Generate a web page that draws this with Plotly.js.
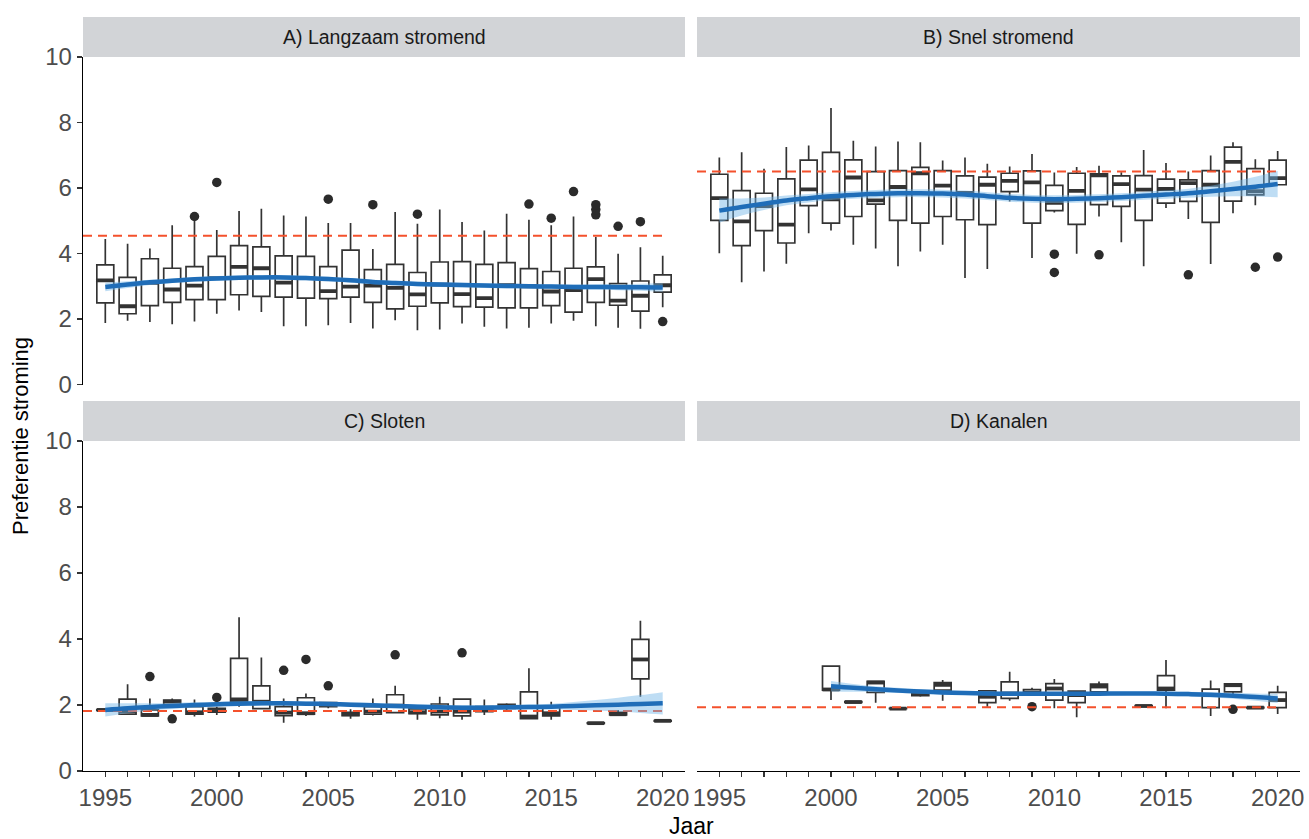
<!DOCTYPE html>
<html>
<head>
<meta charset="utf-8">
<script src="https://cdn.plot.ly/plotly-3.0.1.min.js"></script>
<style>
  html, body { margin: 0; padding: 0; background: #fff; }
  #chart { width: 1309px; height: 839px; }
</style>
</head>
<body>
<div id="chart"></div>
<script>
// ---------- Panel A: Langzaam stromend ----------
const yearsA = [1995,1996,1997,1998,1999,2000,2001,2002,2003,2004,2005,2006,2007,2008,2009,2010,2011,2012,2013,2014,2015,2016,2017,2018,2019,2020];
const loA  = [1.88,1.95,1.91,1.84,1.92,2.16,2.26,2.21,1.78,1.78,1.81,1.88,1.71,1.96,1.66,1.68,1.86,1.76,1.71,1.73,1.86,1.95,1.78,1.73,1.70,2.36];
const q1A  = [2.49,2.16,2.41,2.51,2.59,2.59,2.74,2.69,2.67,2.64,2.62,2.67,2.51,2.31,2.39,2.49,2.38,2.36,2.34,2.34,2.41,2.21,2.51,2.42,2.24,2.82];
const medA = [3.18,2.39,3.10,2.90,3.02,3.25,3.59,3.55,3.11,3.25,2.85,2.99,3.02,2.95,2.75,3.05,2.76,2.64,3.03,3.00,2.84,2.88,3.22,2.56,2.71,3.03];
const q3A  = [3.65,3.27,3.84,3.55,3.60,3.91,4.24,4.20,3.93,3.91,3.60,4.10,3.51,3.67,3.42,3.74,3.75,3.67,3.72,3.54,3.45,3.55,3.59,3.08,3.16,3.35];
const hiA  = [4.44,4.30,4.15,4.86,5.00,4.72,5.30,5.37,5.16,5.13,4.93,4.93,4.14,5.27,4.91,5.34,4.96,4.70,5.21,5.03,4.86,5.13,4.50,3.99,4.19,3.93];
const outYearA = [1999,2000,2005,2007,2009,2014,2015,2016,2017,2017,2017,2018,2019,2020];
const outValA  = [5.13,6.17,5.66,5.49,5.20,5.51,5.08,5.89,5.18,5.34,5.49,4.83,4.97,1.92];
const fitA = [2.98,3.05,3.12,3.17,3.21,3.24,3.26,3.27,3.27,3.25,3.22,3.18,3.13,3.10,3.07,3.05,3.04,3.02,3.01,3.00,2.99,2.98,2.98,2.97,2.97,2.96];
const seA  = [0.13,0.10,0.08,0.07,0.07,0.07,0.07,0.07,0.07,0.07,0.07,0.07,0.07,0.07,0.07,0.07,0.07,0.07,0.07,0.07,0.07,0.07,0.08,0.09,0.11,0.13];
const refA = 4.54;

// ---------- Panel B: Snel stromend ----------
const yearsB = [1995,1996,1997,1998,1999,2000,2001,2002,2003,2004,2005,2006,2007,2008,2009,2010,2011,2012,2013,2014,2015,2016,2017,2018,2019,2020];
const loB  = [4.01,3.12,3.45,3.69,4.62,4.70,4.27,4.15,3.61,4.06,4.27,3.25,3.53,5.59,3.86,5.25,3.99,5.13,4.34,3.61,5.39,5.05,3.68,5.23,5.47,6.10];
const q1B  = [5.01,4.24,4.70,4.32,5.46,4.93,5.13,5.51,5.01,4.93,5.13,5.03,4.88,5.89,4.93,5.31,4.89,5.49,5.44,5.01,5.54,5.59,4.95,5.60,5.79,6.10];
const medB = [5.69,4.98,5.45,4.88,5.96,5.65,6.32,5.62,6.03,6.45,6.07,5.85,6.10,6.22,6.17,5.55,5.91,6.39,6.12,5.95,5.97,6.15,6.10,6.80,5.90,6.30];
const q3B  = [6.42,5.92,5.84,6.28,6.85,7.09,6.86,6.50,6.53,6.63,6.53,6.37,6.33,6.45,6.52,6.08,6.45,6.43,6.37,6.38,6.27,6.25,6.53,7.25,6.59,6.85];
const hiB  = [6.93,7.09,6.59,7.25,7.30,8.44,7.44,7.27,7.42,7.40,6.84,6.93,6.74,6.66,7.04,6.47,6.64,6.68,6.48,7.16,6.76,6.50,6.99,7.40,6.88,7.13];
const outYearB = [2010,2010,2012,2016,2019,2020];
const outValB  = [3.98,3.42,3.96,3.35,3.58,3.89];
const fitB = [5.31,5.42,5.52,5.62,5.69,5.75,5.79,5.82,5.84,5.84,5.83,5.80,5.75,5.70,5.67,5.66,5.67,5.69,5.72,5.76,5.80,5.84,5.90,5.97,6.04,6.12];
const seB  = [0.37,0.26,0.19,0.15,0.13,0.12,0.12,0.12,0.12,0.12,0.12,0.12,0.12,0.12,0.12,0.12,0.12,0.12,0.12,0.12,0.13,0.14,0.17,0.22,0.30,0.40];
const refB = 6.50;

// ---------- Panel C: Sloten ----------
const yearsC = [1995,1996,1997,1998,1999,2000,2001,2002,2003,2004,2005,2006,2007,2008,2009,2010,2011,2012,2013,2014,2015,2017,2018,2019,2020];
const loC  = [1.83,1.72,1.65,1.95,1.65,1.70,1.95,1.88,1.46,1.67,1.90,1.58,1.68,1.75,1.55,1.60,1.55,1.70,1.85,1.57,1.55,1.43,1.68,2.25,1.50];
const q1C  = [1.84,1.72,1.67,2.00,1.72,1.78,2.12,1.89,1.68,1.72,1.95,1.68,1.72,1.77,1.74,1.70,1.67,1.80,1.90,1.59,1.67,1.44,1.70,2.79,1.51];
const medC = [1.85,1.80,1.70,2.10,1.78,1.82,2.17,2.10,1.77,1.75,2.00,1.72,1.80,1.98,1.78,1.80,1.80,1.85,1.95,1.65,1.75,1.45,1.72,3.38,1.52];
const q3C  = [1.86,2.18,1.85,2.15,1.95,1.90,3.41,2.58,1.95,2.22,2.07,1.78,1.95,2.31,1.88,2.03,2.18,1.95,2.02,2.40,1.95,1.46,1.78,3.99,1.53];
const hiC  = [1.87,2.63,2.20,2.20,2.17,1.95,4.66,3.44,2.20,2.35,2.10,1.87,2.20,2.58,2.00,2.25,2.20,2.17,2.05,3.11,2.10,1.47,1.85,4.55,1.54];
const outYearC = [1997,1998,2000,2003,2004,2005,2008,2011];
const outValC  = [2.86,1.58,2.23,3.05,3.38,2.58,3.52,3.58];
const fitYearsC = [1995,1996,1997,1998,1999,2000,2001,2002,2003,2004,2005,2006,2007,2008,2009,2010,2011,2012,2013,2014,2015,2016,2017,2018,2019,2020];
const fitC = [1.85,1.90,1.94,1.97,2.00,2.02,2.04,2.05,2.05,2.04,2.03,2.01,1.99,1.97,1.95,1.93,1.92,1.92,1.93,1.94,1.95,1.97,1.99,2.01,2.03,2.05];
const seC  = [0.20,0.15,0.11,0.09,0.08,0.07,0.07,0.07,0.07,0.07,0.07,0.07,0.07,0.07,0.07,0.07,0.07,0.07,0.07,0.08,0.09,0.12,0.16,0.21,0.27,0.34];
const refC = 1.82;

// ---------- Panel D: Kanalen ----------
const yearsD = [2000,2001,2002,2003,2004,2005,2007,2008,2009,2010,2011,2012,2014,2015,2017,2018,2019,2020];
const loD  = [2.15,2.07,2.07,1.88,2.25,2.13,1.95,2.13,2.28,1.90,1.63,2.35,1.95,1.90,1.67,2.30,1.90,1.73];
const q1D  = [2.45,2.08,2.38,1.89,2.28,2.45,2.07,2.20,2.30,2.15,2.07,2.40,1.96,2.45,1.92,2.40,1.91,1.92];
const medD = [2.47,2.09,2.68,1.89,2.35,2.61,2.25,2.35,2.38,2.50,2.30,2.56,1.97,2.50,2.30,2.60,1.92,2.15];
const q3D  = [3.18,2.10,2.72,1.90,2.42,2.68,2.43,2.70,2.47,2.65,2.42,2.63,1.98,2.89,2.48,2.64,1.93,2.38];
const hiD  = [3.18,2.11,2.74,1.90,2.45,2.76,2.43,3.01,2.52,2.79,2.42,2.71,1.99,3.36,2.74,2.66,1.94,2.58];
const outYearD = [2009,2018];
const outValD  = [1.95,1.87];
const fitYearsD = [2000,2001,2002,2003,2004,2005,2006,2007,2008,2009,2010,2011,2012,2013,2014,2015,2016,2017,2018,2019,2020];
const fitD = [2.57,2.52,2.48,2.44,2.41,2.38,2.36,2.35,2.34,2.34,2.34,2.34,2.34,2.35,2.35,2.34,2.33,2.31,2.28,2.24,2.20];
const seD  = [0.16,0.12,0.09,0.08,0.07,0.07,0.06,0.06,0.06,0.06,0.06,0.06,0.06,0.06,0.06,0.07,0.07,0.08,0.09,0.11,0.14];
const refD = 1.93;

const panelTitles = ['A) Langzaam stromend', 'B) Snel stromend', 'C) Sloten', 'D) Kanalen'];
const xTickVals = [1995,2000,2005,2010,2015,2020];
const yTickVals = [0,2,4,6,8,10];

// ---------- styling ----------
const FONT = 'Liberation Sans, Arial, sans-serif';
const BOX_LINE = '#333333';
const FIT_COLOR = '#1f6db8';
const BAND_COLOR = 'rgba(110,180,230,0.45)';
const REF_COLOR = '#f4512c';
const HALF_BOX = 0.38;

function panelTraces(xa, ya, years, lo, q1, med, q3, hi, outYear, outVal, fitYears, fit, se, ref) {
  const traces = [];
  traces.push({
    type: 'box', xaxis: xa, yaxis: ya,
    x: years, q1: q1, median: med, q3: q3, lowerfence: lo, upperfence: hi,
    boxpoints: false, width: 2 * HALF_BOX, whiskerwidth: 0,
    fillcolor: '#ffffff', line: { color: BOX_LINE, width: 1.7 },
    hoverinfo: 'skip', showlegend: false
  });
  // thick median bars
  const mx = [], my = [];
  years.forEach((yr, i) => {
    mx.push(yr - HALF_BOX, yr + HALF_BOX, null);
    my.push(med[i], med[i], null);
  });
  traces.push({
    type: 'scatter', mode: 'lines', xaxis: xa, yaxis: ya,
    x: mx, y: my, line: { color: BOX_LINE, width: 3.8 },
    hoverinfo: 'skip', showlegend: false
  });
  traces.push({
    type: 'scatter', mode: 'markers', xaxis: xa, yaxis: ya,
    x: outYear, y: outVal, marker: { color: '#2b2b2b', size: 9.5 },
    hoverinfo: 'skip', showlegend: false
  });
  traces.push({
    type: 'scatter', mode: 'lines', xaxis: xa, yaxis: ya,
    x: [1994, 2020], y: [ref, ref],
    line: { color: REF_COLOR, width: 2, dash: '9px,6px' },
    hoverinfo: 'skip', showlegend: false
  });
  traces.push({
    type: 'scatter', mode: 'lines', xaxis: xa, yaxis: ya,
    x: fitYears, y: fit.map((v, i) => v - se[i]),
    line: { width: 0, shape: 'spline' }, hoverinfo: 'skip', showlegend: false
  });
  traces.push({
    type: 'scatter', mode: 'lines', xaxis: xa, yaxis: ya,
    x: fitYears, y: fit.map((v, i) => v + se[i]),
    fill: 'tonexty', fillcolor: BAND_COLOR,
    line: { width: 0, shape: 'spline' }, hoverinfo: 'skip', showlegend: false
  });
  traces.push({
    type: 'scatter', mode: 'lines', xaxis: xa, yaxis: ya,
    x: fitYears, y: fit,
    line: { color: FIT_COLOR, width: 4.5, shape: 'spline' },
    hoverinfo: 'skip', showlegend: false
  });
  return traces;
}

const data = [].concat(
  panelTraces('x', 'y', yearsA, loA, q1A, medA, q3A, hiA, outYearA, outValA, yearsA, fitA, seA, refA),
  panelTraces('x2', 'y2', yearsB, loB, q1B, medB, q3B, hiB, outYearB, outValB, yearsB, fitB, seB, refB),
  panelTraces('x3', 'y3', yearsC, loC, q1C, medC, q3C, hiC, outYearC, outValC, fitYearsC, fitC, seC, refC),
  panelTraces('x4', 'y4', yearsD, loD, q1D, medD, q3D, hiD, outYearD, outValD, fitYearsD, fitD, seD, refD)
);

// pixel geometry of the 2x2 facet grid
const W = 1309, H = 839;
const colL = [83, 697], colR = [685, 1300];
const rowTop = [57, 441], rowBot = [384.5, 771];
const stripH = 40;
const px = v => v / W;
const py = v => 1 - v / H;

const allYears = [];
for (let yr = 1995; yr <= 2020; yr++) allYears.push(yr);

function xAxis(col, row, show, anchor) {
  return {
    domain: [px(colL[col]), px(colR[col])], anchor: anchor,
    range: [1994, 2021], showgrid: false, zeroline: false,
    showline: show, linecolor: '#000', linewidth: 1.3,
    ticks: show ? 'outside' : '', ticklen: 5, tickwidth: 1.2, tickcolor: '#333',
    tickmode: 'array', tickvals: show ? allYears : [],
    ticktext: allYears.map(yr => xTickVals.includes(yr) ? String(yr) : ''),
    showticklabels: show, tickfont: { family: FONT, size: 24, color: '#4d4d4d' },
    fixedrange: true
  };
}
function yAxis(col, row, show, anchor) {
  return {
    domain: [py(rowBot[row]), py(rowTop[row])], anchor: anchor,
    range: [0, 10], showgrid: false, zeroline: false,
    showline: show, linecolor: '#000', linewidth: 1.3,
    ticks: show ? 'outside' : '', ticklen: 5, tickwidth: 1.2, tickcolor: '#333',
    tickmode: 'array', tickvals: yTickVals,
    showticklabels: show, tickfont: { family: FONT, size: 24, color: '#4d4d4d' },
    fixedrange: true
  };
}

const shapes = [], annotations = [];
[[0,0],[1,0],[0,1],[1,1]].forEach(([c, r], i) => {
  shapes.push({
    type: 'rect', xref: 'paper', yref: 'paper', layer: 'below',
    x0: px(colL[c]), x1: px(colR[c]),
    y0: py(rowTop[r]), y1: py(rowTop[r] - stripH),
    fillcolor: '#d2d4d7', line: { width: 0 }
  });
  annotations.push({
    xref: 'paper', yref: 'paper', showarrow: false,
    x: px((colL[c] + colR[c]) / 2), y: py(rowTop[r] - stripH / 2),
    xanchor: 'center', yanchor: 'middle',
    text: panelTitles[i], font: { family: FONT, size: 19.5, color: '#1a1a1a' }
  });
});
annotations.push({
  xref: 'paper', yref: 'paper', showarrow: false,
  x: px(20), y: py(436), xanchor: 'center', yanchor: 'middle', textangle: -90,
  text: 'Preferentie stroming', font: { family: FONT, size: 22, color: '#000' }
});
annotations.push({
  xref: 'paper', yref: 'paper', showarrow: false,
  x: px(691), y: py(826), xanchor: 'center', yanchor: 'middle',
  text: 'Jaar', font: { family: FONT, size: 23, color: '#000' }
});

const layout = {
  width: W, height: H,
  margin: { l: 0, r: 0, t: 0, b: 0 },
  paper_bgcolor: '#ffffff', plot_bgcolor: '#ffffff',
  showlegend: false,
  font: { family: FONT },
  xaxis:  xAxis(0, 0, false, 'y'),
  yaxis:  yAxis(0, 0, true, 'x'),
  xaxis2: xAxis(1, 0, false, 'y2'),
  yaxis2: yAxis(1, 0, false, 'x2'),
  xaxis3: xAxis(0, 1, true, 'y3'),
  yaxis3: yAxis(0, 1, true, 'x3'),
  xaxis4: xAxis(1, 1, true, 'y4'),
  yaxis4: yAxis(1, 1, false, 'x4'),
  shapes: shapes,
  annotations: annotations
};

Plotly.newPlot('chart', data, layout, { staticPlot: true, displayModeBar: false });
</script>
</body>
</html>
